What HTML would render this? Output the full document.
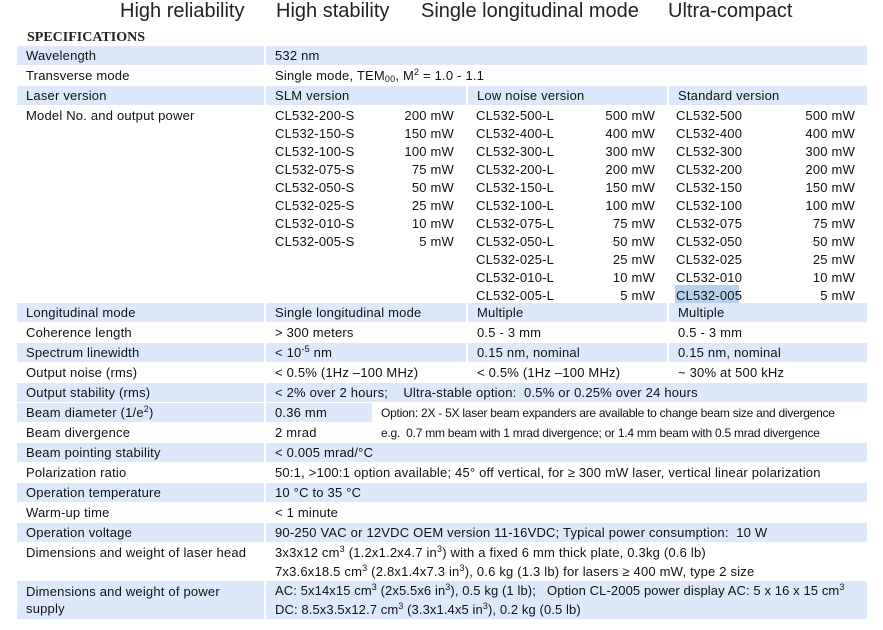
<!DOCTYPE html>
<html><head><meta charset="utf-8"><style>
body{margin:0;width:883px;height:630px;background:#fff;position:relative;overflow:hidden;font-family:"Liberation Sans","DejaVu Sans",sans-serif;font-size:13px;color:#111;}
.h{position:absolute;top:-2px;font-size:20px;line-height:26px;color:#222;white-space:nowrap}
.c{position:absolute;box-sizing:border-box;padding-left:9px;white-space:nowrap;line-height:20px;letter-spacing:0.2px}
.b{background:#dde9fb}
.w{background:#fff}
.l{position:absolute;white-space:nowrap;line-height:18px;letter-spacing:0.2px}
sup{font-size:9px;vertical-align:5px;line-height:0}
sub{font-size:9px;vertical-align:-2px;line-height:0}
</style></head><body>
<div class="h" style="left:120px">High reliability</div>
<div class="h" style="left:276px">High stability</div>
<div class="h" style="left:421px">Single longitudinal mode</div>
<div class="h" style="left:668px">Ultra-compact</div>
<div style="position:absolute;left:27px;top:30px;font-family:'Liberation Serif',serif;font-weight:bold;font-size:14px;color:#222">SPECIFICATIONS</div>

<div class="c b" style="left:17px;top:46px;width:247px;height:19px">Wavelength</div>
<div class="c b" style="left:266px;top:46px;width:601px;height:19px">532 nm</div>

<div class="c w" style="left:17px;top:66px;width:247px;height:19px">Transverse mode</div>
<div class="c w" style="left:266px;top:66px;width:601px;height:19px">Single mode, TEM<sub>00</sub>, M<sup>2</sup> = 1.0 - 1.1</div>

<div class="c b" style="left:17px;top:86px;width:247px;height:19px">Laser version</div>
<div class="c b" style="left:266px;top:86px;width:200px;height:19px">SLM version</div>
<div class="c b" style="left:468px;top:86px;width:199px;height:19px">Low noise version</div>
<div class="c b" style="left:669px;top:86px;width:198px;height:19px">Standard version</div>

<div class="c w" style="left:17px;top:106px;width:247px;height:196px">Model No. and output power</div>
<div style="position:absolute;left:675px;top:285px;width:64px;height:18px;background:#b9d1ec"></div>

<div class="c b" style="left:17px;top:303px;width:247px;height:19px">Longitudinal mode</div>
<div class="c b" style="left:266px;top:303px;width:200px;height:19px">Single longitudinal mode</div>
<div class="c b" style="left:468px;top:303px;width:199px;height:19px">Multiple</div>
<div class="c b" style="left:669px;top:303px;width:198px;height:19px">Multiple</div>

<div class="c w" style="left:17px;top:323px;width:247px;height:19px">Coherence length</div>
<div class="c w" style="left:266px;top:323px;width:200px;height:19px">&gt; 300 meters</div>
<div class="c w" style="left:468px;top:323px;width:199px;height:19px">0.5 - 3 mm</div>
<div class="c w" style="left:669px;top:323px;width:198px;height:19px">0.5 - 3 mm</div>

<div class="c b" style="left:17px;top:343px;width:247px;height:19px">Spectrum linewidth</div>
<div class="c b" style="left:266px;top:343px;width:200px;height:19px">&lt; 10<sup>-5</sup> nm</div>
<div class="c b" style="left:468px;top:343px;width:199px;height:19px">0.15 nm, nominal</div>
<div class="c b" style="left:669px;top:343px;width:198px;height:19px">0.15 nm, nominal</div>

<div class="c w" style="left:17px;top:363px;width:247px;height:19px">Output noise (rms)</div>
<div class="c w" style="left:266px;top:363px;width:200px;height:19px">&lt; 0.5% (1Hz –100 MHz)</div>
<div class="c w" style="left:468px;top:363px;width:199px;height:19px">&lt; 0.5% (1Hz –100 MHz)</div>
<div class="c w" style="left:669px;top:363px;width:198px;height:19px">~ 30% at 500 kHz</div>

<div class="c b" style="left:17px;top:383px;width:247px;height:19px">Output stability (rms)</div>
<div class="c b" style="left:266px;top:383px;width:601px;height:19px">&lt; 2% over 2 hours;&nbsp;&nbsp;&nbsp; Ultra-stable option:&nbsp; 0.5% or 0.25% over 24 hours</div>

<div class="c b" style="left:17px;top:403px;width:247px;height:19px">Beam diameter (1/e<sup>2</sup>)</div>
<div class="c b" style="left:266px;top:403px;width:106px;height:19px">0.36 mm</div>
<div class="c w" style="left:374px;top:403px;width:493px;height:19px;font-size:12px;padding-left:7px;letter-spacing:-0.25px">Option: 2X - 5X laser beam expanders are available to change beam size and divergence</div>

<div class="c w" style="left:17px;top:423px;width:247px;height:19px">Beam divergence</div>
<div class="c w" style="left:266px;top:423px;width:106px;height:19px">2 mrad</div>
<div class="c w" style="left:374px;top:423px;width:493px;height:19px;font-size:12px;padding-left:7px;letter-spacing:-0.25px">e.g.&nbsp; 0.7 mm beam with 1 mrad divergence; or 1.4 mm beam with 0.5 mrad divergence</div>

<div class="c b" style="left:17px;top:443px;width:247px;height:19px">Beam pointing stability</div>
<div class="c b" style="left:266px;top:443px;width:601px;height:19px">&lt; 0.005 mrad/°C</div>

<div class="c w" style="left:17px;top:463px;width:247px;height:19px">Polarization ratio</div>
<div class="c w" style="left:266px;top:463px;width:601px;height:19px">50:1, &gt;100:1 option available; 45° off vertical, for ≥ 300 mW laser, vertical linear polarization</div>

<div class="c b" style="left:17px;top:483px;width:247px;height:19px">Operation temperature</div>
<div class="c b" style="left:266px;top:483px;width:601px;height:19px">10 °C to 35 °C</div>

<div class="c w" style="left:17px;top:503px;width:247px;height:19px">Warm-up time</div>
<div class="c w" style="left:266px;top:503px;width:601px;height:19px">&lt; 1 minute</div>

<div class="c b" style="left:17px;top:523px;width:247px;height:19px">Operation voltage</div>
<div class="c b" style="left:266px;top:523px;width:601px;height:19px">90-250 VAC or 12VDC OEM version 11-16VDC; Typical power consumption:&nbsp; 10 W</div>

<div class="c w" style="left:17px;top:543px;width:247px;height:37px">Dimensions and weight of laser head</div>
<div class="c w" style="left:266px;top:543px;width:601px;height:37px;line-height:19px">3x3x12 cm<sup>3</sup> (1.2x1.2x4.7 in<sup>3</sup>) with a fixed 6 mm thick plate, 0.3kg (0.6 lb)<br>7x3.6x18.5 cm<sup>3</sup> (2.8x1.4x7.3 in<sup>3</sup>), 0.6 kg (1.3 lb) for lasers ≥ 400 mW, type 2 size</div>

<div class="c b" style="left:17px;top:581px;width:247px;height:38px;line-height:17px;padding-top:2px">Dimensions and weight of power<br>supply</div>
<div class="c b" style="left:266px;top:581px;width:601px;height:38px;line-height:19px;letter-spacing:0.1px">AC: 5x14x15 cm<sup>3</sup> (2x5.5x6 in<sup>3</sup>), 0.5 kg (1 lb);&nbsp;&nbsp; Option CL-2005 power display AC: 5 x 16 x 15 cm<sup>3</sup><br>DC: 8.5x3.5x12.7 cm<sup>3</sup> (3.3x1.4x5 in<sup>3</sup>), 0.2 kg (0.5 lb)</div>

<div class="l" style="left:275px;top:107px">CL532-200-S<br>CL532-150-S<br>CL532-100-S<br>CL532-075-S<br>CL532-050-S<br>CL532-025-S<br>CL532-010-S<br>CL532-005-S</div>
<div class="l" style="right:429px;top:107px;text-align:right">200 mW<br>150 mW<br>100 mW<br>75 mW<br>50 mW<br>25 mW<br>10 mW<br>5 mW</div>
<div class="l" style="left:476px;top:107px">CL532-500-L<br>CL532-400-L<br>CL532-300-L<br>CL532-200-L<br>CL532-150-L<br>CL532-100-L<br>CL532-075-L<br>CL532-050-L<br>CL532-025-L<br>CL532-010-L<br>CL532-005-L</div>
<div class="l" style="right:228px;top:107px;text-align:right">500 mW<br>400 mW<br>300 mW<br>200 mW<br>150 mW<br>100 mW<br>75 mW<br>50 mW<br>25 mW<br>10 mW<br>5 mW</div>
<div class="l" style="left:676px;top:107px">CL532-500<br>CL532-400<br>CL532-300<br>CL532-200<br>CL532-150<br>CL532-100<br>CL532-075<br>CL532-050<br>CL532-025<br>CL532-010<br>CL532-005</div>
<div class="l" style="right:28px;top:107px;text-align:right">500 mW<br>400 mW<br>300 mW<br>200 mW<br>150 mW<br>100 mW<br>75 mW<br>50 mW<br>25 mW<br>10 mW<br>5 mW</div>
</body></html>
